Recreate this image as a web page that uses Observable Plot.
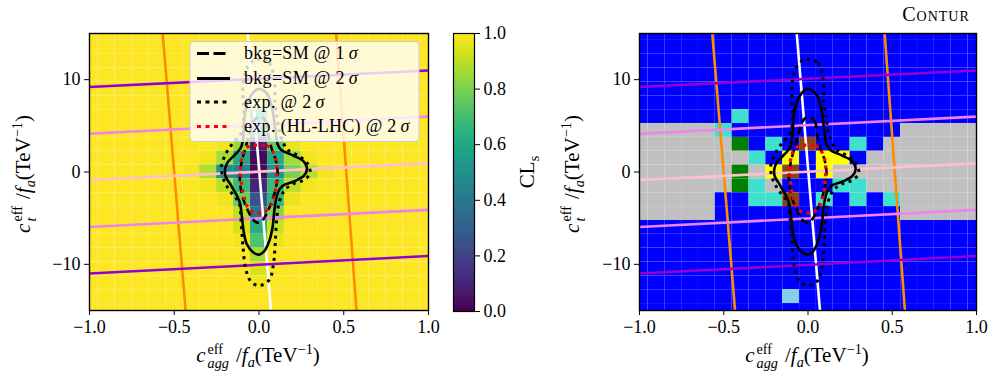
<!DOCTYPE html>
<html><head><meta charset="utf-8">
<script src="https://cdn.jsdelivr.net/npm/d3@7"></script>
<script src="https://cdn.jsdelivr.net/npm/@observablehq/plot@0.6"></script>
<style>
body{margin:0;background:#fff;}
#fig{position:relative;width:996px;height:384px;font-family:"Liberation Serif",serif;color:#000;overflow:hidden}
#fig svg{position:absolute;top:0;overflow:visible;background:none}
.lab{position:absolute;font-size:21px;white-space:nowrap;line-height:1;transform:translate(-50%,-50%)}
.rot{transform:translate(-50%,-50%) rotate(-90deg)}
.ss{display:inline-flex;flex-direction:column;font-size:0.68em;line-height:1.0;vertical-align:0.55em;margin-right:7px;margin-left:2px}
.lab sub,.lab sup{font-size:0.68em;line-height:0}
</style></head><body><div id="fig"></div><script>
// ---------- data ----------
const xCenters = [-1.0,-0.9,-0.8,-0.7,-0.6,-0.5,-0.4,-0.3,-0.2,-0.1,0.0,0.1,0.2,0.3,0.4,0.5,0.6,0.7,0.8,0.9,1.0];
const yCenters = [15,13.5,12,10.5,9,7.5,6,4.5,3,1.5,0,-1.5,-3,-4.5,-6,-7.5,-9,-10.5,-12,-13.5,-15];
const xTicks = [-1,-0.5,0,0.5,1];
const xTickLabels = ["\u22121.0","\u22120.5","0.0","0.5","1.0"];
const yTicks = [10,0,-10];
const yTickLabels = ["10","0","\u221210"];
const cbTicks = [0,0.2,0.4,0.6,0.8,1.0];
const cbTickLabels = ["0.0","0.2","0.4","0.6","0.8","1.0"];
const clsDefault = 1.0;
// CLs cells below 1 : [x, y, CLs]
const clsCells = [
 [0,7.5,0.95],[0,6,0.65],
 [-0.1,4.5,0.97],[0,4.5,0.6],[0.1,4.5,0.97],
 [-0.2,3,0.98],[-0.1,3,0.84],[0,3,0.08],[0.1,3,0.76],[0.2,3,0.97],
 [-0.3,1.5,0.98],[-0.2,1.5,0.87],[-0.1,1.5,0.6],[0,1.5,0.02],[0.1,1.5,0.6],[0.2,1.5,0.86],[0.3,1.5,0.98],
 [-0.4,0,0.985],[-0.3,0,0.88],[-0.2,0,0.5],[-0.1,0,0.45],[0,0,0.03],[0.1,0,0.5],[0.2,0,0.8],[0.3,0,0.9],[0.4,0,0.985],
 [-0.3,-1.5,0.98],[-0.2,-1.5,0.9],[-0.1,-1.5,0.68],[0,-1.5,0.1],[0.1,-1.5,0.68],[0.2,-1.5,0.9],[0.3,-1.5,0.98],
 [-0.2,-3,0.98],[-0.1,-3,0.77],[0,-3,0.25],[0.1,-3,0.66],[0.2,-3,0.97],
 [-0.1,-4.5,0.9],[0,-4.5,0.37],[0.1,-4.5,0.82],
 [-0.1,-6,0.94],[0,-6,0.62],[0.1,-6,0.92],
 [-0.1,-7.5,0.98],[0,-7.5,0.72],[0.1,-7.5,0.97],
 [0,-9,0.87],[0,-10.5,0.94],[0,-12,0.98]
];
// Contur pools per cell, one string per y row (top to bottom), one char per x column
const conturRows = [
 "BBBBBBBBBBBBBBBBBBBBB",
 "BBBBBBBBBBBBBBBBBBBBB",
 "BBBBBBBBBBBBBBBBBBBBB",
 "BBBBBBBBBBBBBBBBBBBBB",
 "BBBBBBBBBBBBBBBBBBBBB",
 "BBBBBBBBBBBBBBBBBBBBB",
 "BBBBBBCBBBBBBBBBBBBBB",
 "GGGGGCBBBBBBBBBBGGGGG",
 "GGGGGGNBCBRBBCBGGGGGG",
 "GGGGGGGCBYBYYBGGGGGGG",
 "GGGGGGNGYRBYGGGGGGGGG",
 "GGGGGGNCGBBBCCGGGGGGG",
 "GGGGGBBCCRBCBCBCGGGGG",
 "GGGGGBBBBBBBBBBBGGGGG",
 "BBBBBBBBBBBBBBBBBBBBB",
 "BBBBBBBBBBBBBBBBBBBBB",
 "BBBBBBBBBBBBBBBBBBBBB",
 "BBBBBBBBBBBBBBBBBBBBB",
 "BBBBBBBBBBBBBBBBBBBBB",
 "BBBBBBBBBSBBBBBBBBBBB",
 "BBBBBBBBBBBBBBBBBBBBB"
];
// straight constraint lines: [x at top, y top, x at bottom, y bottom]
const lineKinds = ["orange","orange","white","purple","purple","violet","violet","pink"];
const lineEnds = [
 [-0.568,15,-0.433,-15],
 [0.455,15,0.575,-15],
 [-0.067,15,0.071,-15],
 [-1,9.2,1,11.0],
 [-1,-11.0,1,-9.1],
 [-1,4.15,1,6.0],
 [-1,-5.95,1,-4.1],
 [-1,-0.87,1,0.94]
];
// contours [x, y]
const contourSolid2 = [[0,9.0],[0.05,8.4],[0.073,7.3],[0.09,5.5],[0.1,4.0],[0.11,3.0],[0.13,2.4],[0.2,1.8],[0.26,1.2],[0.283,0.4],[0.265,-0.4],[0.21,-1.0],[0.14,-1.5],[0.11,-2.3],[0.093,-3.8],[0.08,-6],[0.06,-7.5],[0.03,-8.6],[0,-8.95],[-0.035,-8.7],[-0.072,-7.8],[-0.09,-6.5],[-0.1,-5],[-0.115,-3.2],[-0.16,-1.6],[-0.2,-0.3],[-0.19,0.9],[-0.14,1.9],[-0.105,2.7],[-0.092,4],[-0.085,6],[-0.065,7.6],[-0.035,8.6]];
const contourDashed1 = [[0,6.0],[0.04,5.5],[0.055,4.0],[0.075,2.5],[0.1,1.2],[0.11,-0.5],[0.088,-2.5],[0.06,-3.9],[0.03,-5.0],[0,-5.5],[-0.03,-5.25],[-0.065,-4.2],[-0.098,-2.6],[-0.113,-0.8],[-0.103,1.0],[-0.08,2.6],[-0.055,4.2],[-0.035,5.4]];
const contourExp2 = [[0,12.2],[0.06,11.8],[0.09,10],[0.095,7.5],[0.11,5.6],[0.125,4.0],[0.17,2.4],[0.24,1.7],[0.29,0.8],[0.3,-0.2],[0.26,-0.9],[0.2,-1.3],[0.15,-2.0],[0.12,-3.2],[0.105,-5],[0.095,-8],[0.085,-10],[0.06,-11.7],[0,-12.3],[-0.05,-11.8],[-0.078,-10.5],[-0.095,-8],[-0.107,-5],[-0.118,-3.3],[-0.165,-2.2],[-0.205,-1.0],[-0.222,0.5],[-0.2,1.8],[-0.16,3.0],[-0.105,4.2],[-0.09,6],[-0.095,9.5],[-0.07,11.3],[-0.03,12.1]];
const contourHL = [[0,2.9],[0.045,2.85],[0.075,2.4],[0.1,1.3],[0.105,0.0],[0.1,-1.5],[0.085,-3.0],[0.06,-3.9],[0.03,-4.35],[0,-4.45],[-0.04,-4.3],[-0.07,-3.7],[-0.09,-2.6],[-0.105,-1.0],[-0.11,0.4],[-0.1,1.6],[-0.08,2.5],[-0.045,2.85]];
const legendLabels = ["bkg=SM @ 1","bkg=SM @ 2","exp. @ 2","exp. (HL-LHC) @ 2"];

// ---------- styles ----------
const lineColor = {orange:"#ff8c00", white:"#ffffff", purple:"#9400d3", violet:"#ee82ee", pink:"#ffc0cb"};
const poolColor = {B:"#0000ff", G:"#c0c0c0", C:"#40e0d0", N:"#008000", Y:"#ffff00", R:"#8b4513", S:"#87ceeb"};
const contourStyles = [
 {data: contourDashed1, stroke:"black", dash:"7.5,4.5", w:2.6, leg:"12,4.5"},
 {data: contourSolid2, stroke:"black", dash:null, w:2.6, leg:null},
 {data: contourExp2, stroke:"black", dash:"3,4.5", w:3, leg:"4,4.5"},
 {data: contourHL, stroke:"#ff0000", dash:"3.2,4.5", w:3.2, leg:"4,4.5"}
];
const FONT = "Liberation Serif, serif";
const TICKFS = 18;

// ---------- derived tables ----------
const dx = +(xCenters[1]-xCenters[0]).toFixed(6), dy = Math.abs(yCenters[1]-yCenters[0]);
const leftTable = [];
for (const y of yCenters) for (const x of xCenters) {
  const hit = clsCells.find(c => Math.abs(c[0]-x)<1e-6 && Math.abs(c[1]-y)<1e-6);
  leftTable.push({x, y, v: hit ? hit[2] : clsDefault});
}
const rightTable = [];
conturRows.forEach((row, j) => [...row].forEach((ch, i) => rightTable.push({x: xCenters[i], y: yCenters[j], pool: ch})));
const lineTable = [];
lineEnds.forEach((e, k) => { lineTable.push({k, kind: lineKinds[k], x: e[0], y: e[1]}); lineTable.push({k, kind: lineKinds[k], x: e[2], y: e[3]}); });

function panelMarks(cellMark) {
  return [
    cellMark,
    ...lineKinds.map((kind, k) => Plot.line(lineTable.filter(d => d.k === k), {x:"x", y:"y", stroke: lineColor[kind], strokeWidth: 2.6, strokeLinecap: "butt", clip: true})),
    ...contourStyles.map(s => Plot.line(s.data, {x: d => d[0], y: d => d[1], curve: "catmull-rom-closed", stroke: s.stroke, strokeWidth: s.w, strokeDasharray: s.dash, strokeLinecap: "butt", clip: true})),
    Plot.axisX(xTicks, {tickFormat: d => xTickLabels[xTicks.indexOf(d)], tickSize: 5, tickPadding: 5, fontSize: TICKFS, label: null, stroke: "black"}),
    Plot.axisY(yTicks, {tickFormat: d => yTickLabels[yTicks.indexOf(d)], tickSize: 5, tickPadding: 4, fontSize: TICKFS, label: null, stroke: "black"}),
    Plot.frame({stroke: "black", strokeWidth: 1.4})
  ];
}
const common = {height: 384, marginTop: 33, marginBottom: 74, marginLeft: 89,
  x: {domain: [-1, 1]}, y: {domain: [-15, 15]},
  style: {fontFamily: FONT, fontSize: TICKFS + "px", color: "black", background: "none", overflow: "visible"}};

const fig = document.getElementById("fig");

// left panel
const leftSvg = Plot.plot({...common, width: 440, marginRight: 12,
  color: {type: "linear", scheme: "viridis", domain: [0, 1]},
  marks: panelMarks(Plot.rect(leftTable, {x1: d => d.x-dx/2, x2: d => d.x+dx/2, y1: d => d.y-dy/2, y2: d => d.y+dy/2, fill: "v", stroke: "white", strokeOpacity: 0.06, strokeWidth: 0.6, clip: true}))
});
leftSvg.style.left = "0px";
fig.appendChild(leftSvg);

// legend in left panel
{
  const g = d3.select(leftSvg).append("g").attr("text-anchor", "start");
  g.append("rect").attr("x", 190).attr("y", 41.5).attr("width", 229).attr("height", 100).attr("rx", 4)
    .attr("fill", "white").attr("fill-opacity", 0.8).attr("stroke", "#cccccc").attr("stroke-width", 1);
  const rowsY = [53.5, 78.5, 102, 126.5];
  contourStyles.forEach((s, i) => {
    g.append("line").attr("x1", 197).attr("x2", 230).attr("y1", rowsY[i]).attr("y2", rowsY[i])
      .attr("stroke", s.stroke).attr("stroke-width", 2.8).attr("stroke-dasharray", s.leg);
    const t = g.append("text").attr("x", 244).attr("y", rowsY[i]).attr("dy", "0.33em").attr("text-anchor", "start")
      .attr("font-family", FONT).attr("font-size", 18).attr("letter-spacing", 0.3).attr("fill", "black");
    t.append("tspan").text(legendLabels[i] + "\u2009");
    t.append("tspan").attr("font-style", "italic").text("\u03c3");
  });
}

// colorbar
const cbSvg = Plot.plot({width: 110, height: 384, marginTop: 33, marginBottom: 73, marginLeft: 0, marginRight: 89,
  x: {domain: [0, 1], axis: null}, y: {domain: [0, 1]},
  color: {type: "linear", scheme: "viridis", domain: [0, 1]},
  style: {fontFamily: FONT, fontSize: TICKFS + "px", color: "black", background: "none", overflow: "visible"},
  marks: [
    Plot.raster({x1: 0, x2: 1, y1: 0, y2: 1, width: 1, height: 256, fill: (x, y) => y, imageRendering: "auto"}),
    Plot.axisY(cbTicks, {anchor: "right", tickFormat: d => cbTickLabels[cbTicks.indexOf(d)], tickSize: 5, tickPadding: 4, fontSize: TICKFS, label: null, stroke: "black"}),
    Plot.frame({stroke: "black", strokeWidth: 1.2})
  ]
});
cbSvg.style.left = "453px";
fig.appendChild(cbSvg);

// right panel
const rightSvg = Plot.plot({...common, width: 446, marginRight: 20,
  marks: panelMarks(Plot.rect(rightTable, {x1: d => d.x-dx/2, x2: d => d.x+dx/2, y1: d => d.y-dy/2, y2: d => d.y+dy/2, fill: d => poolColor[d.pool], stroke: "white", strokeOpacity: 0.05, strokeWidth: 0.6, clip: true}))
});
rightSvg.style.left = "550px";
fig.appendChild(rightSvg);

// ---------- HTML labels ----------
function addLabel(html, x, y, cls) {
  const d = document.createElement("div");
  d.className = "lab" + (cls ? " " + cls : "");
  d.innerHTML = html; d.style.left = x + "px"; d.style.top = y + "px";
  fig.appendChild(d); return d;
}
const xLab = '<i>c</i><span class="ss"><span>eff</span><span><i>agg</i></span></span>/<i>f</i><sub><i>a</i></sub>(TeV<sup>\u22121</sup>)';
const yLab = '<i>c</i><span class="ss"><span>eff</span><span><i>t</i></span></span>/<i>f</i><sub><i>a</i></sub>(TeV<sup>\u22121</sup>)';
addLabel(xLab, 258, 356);
addLabel(xLab, 807, 356);
addLabel(yLab, 24, 174, "rot");
addLabel(yLab, 573, 174, "rot");
addLabel('CL<sub>s</sub>', 527, 172, "rot");
const ct = addLabel('Contur', 936, 14);
ct.style.fontVariant = "small-caps"; ct.style.fontSize = "20px"; ct.style.letterSpacing = "1px";
</script></body></html>
